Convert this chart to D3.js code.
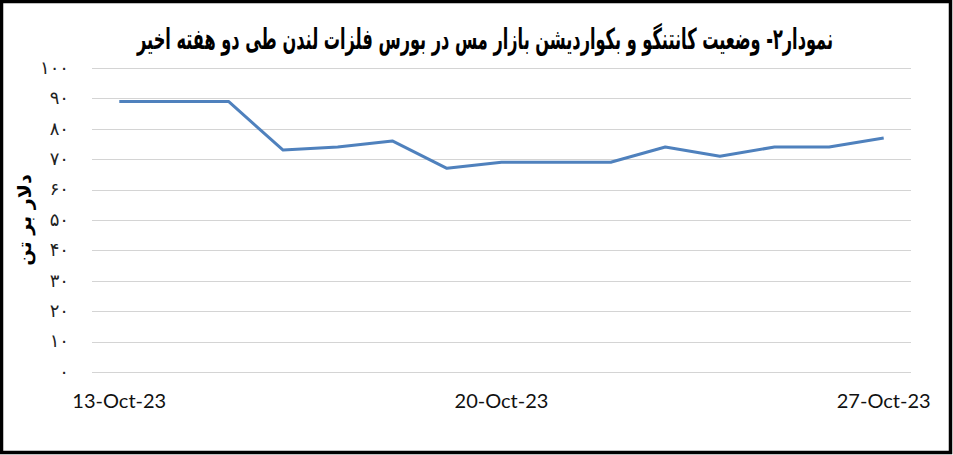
<!DOCTYPE html>
<html>
<head>
<meta charset="utf-8">
<script src="https://cdn.jsdelivr.net/npm/d3@7"></script>
<style>
  html, body { margin: 0; padding: 0; background: #fff; }
  svg { display: block; }
</style>
</head>
<body>
<div id="chart"></div>
<script>
// daily copper spread, LME, last two weeks
const dates = ['13-Oct-23', '14-Oct-23', '15-Oct-23', '16-Oct-23', '17-Oct-23',
  '18-Oct-23', '19-Oct-23', '20-Oct-23', '21-Oct-23', '22-Oct-23', '23-Oct-23',
  '24-Oct-23', '25-Oct-23', '26-Oct-23', '27-Oct-23'];
const values = [89, 89, 89, 73, 74, 76, 67, 69, 69, 69, 74, 71, 74, 74, 77];
const xTickLabels = ['13-Oct-23', '20-Oct-23', '27-Oct-23'];
const yTicks = [0, 10, 20, 30, 40, 50, 60, 70, 80, 90, 100];

const titleText = 'نمودار۲- وضعیت کانتنگو و بکواردیشن بازار مس در بورس فلزات لندن طی دو هفته اخیر';
const yTitle = 'دلار بر تن';

const W = 953, H = 455;
const plot = { left: 92, right: 911, top: 68, bottom: 372 };

const svg = d3.select('#chart').append('svg')
  .attr('width', W).attr('height', H);

svg.append('rect')
  .attr('x', 1.5).attr('y', 1.5)
  .attr('width', W - 4).attr('height', H - 4)
  .attr('fill', '#fff').attr('stroke', '#000').attr('stroke-width', 3.5);

const x = d3.scalePoint()
  .domain(dates)
  .range([plot.left, plot.right])
  .padding(0.5);

const y = d3.scaleLinear()
  .domain([0, 100])
  .range([plot.bottom, plot.top]);

// gridlines
svg.append('g')
  .selectAll('line')
  .data(yTicks)
  .join('line')
  .attr('x1', plot.left).attr('x2', plot.right)
  .attr('y1', d => Math.round(y(d)) + 0.5).attr('y2', d => Math.round(y(d)) + 0.5)
  .attr('stroke', '#d4d4d4').attr('stroke-width', 1);

// y tick labels, Persian digits
const faDigits = n => String(n).replace(/\d/g, c => '۰۱۲۳۴۵۶۷۸۹'[+c]);
svg.append('g')
  .selectAll('text')
  .data(yTicks)
  .join('text')
  .attr('x', 69).attr('y', d => y(d))
  .attr('dy', '0.32em')
  .attr('text-anchor', 'end')
  .attr('font-family', 'DejaVu Sans')
  .attr('font-size', '18px')
  .attr('fill', '#222')
  .text(d => faDigits(d));

// x tick labels
svg.append('g')
  .selectAll('text')
  .data(xTickLabels)
  .join('text')
  .attr('x', d => x(d)).attr('y', 408)
  .attr('text-anchor', 'middle')
  .attr('font-family', 'Lato')
  .attr('font-size', '20px')
  .attr('fill', '#111')
  .text(d => d);

// series line
const line = d3.line()
  .x((d, i) => x(dates[i]))
  .y(d => y(d));

svg.append('path')
  .datum(values)
  .attr('d', line)
  .attr('fill', 'none')
  .attr('stroke', '#4f81bd')
  .attr('stroke-width', 3)
  .attr('stroke-linejoin', 'round');

// title, squeezed to the width of the original
const title = svg.append('text')
  .attr('direction', 'rtl')
  .attr('text-anchor', 'middle')
  .attr('font-family', 'DejaVu Sans')
  .attr('font-weight', 'bold')
  .attr('font-size', '29px')
  .attr('fill', '#000')
  .text(titleText);
const tw = title.node().getComputedTextLength();
const sx = 696 / tw;
title.attr('transform', `translate(485,49) scale(${sx},1)`);

// y axis title
svg.append('text')
  .attr('direction', 'rtl')
  .attr('transform', 'translate(31,220) rotate(-90)')
  .attr('text-anchor', 'middle')
  .attr('font-family', 'DejaVu Sans')
  .attr('font-weight', 'bold')
  .attr('font-size', '19px')
  .attr('fill', '#000')
  .text(yTitle);
</script>
</body>
</html>
